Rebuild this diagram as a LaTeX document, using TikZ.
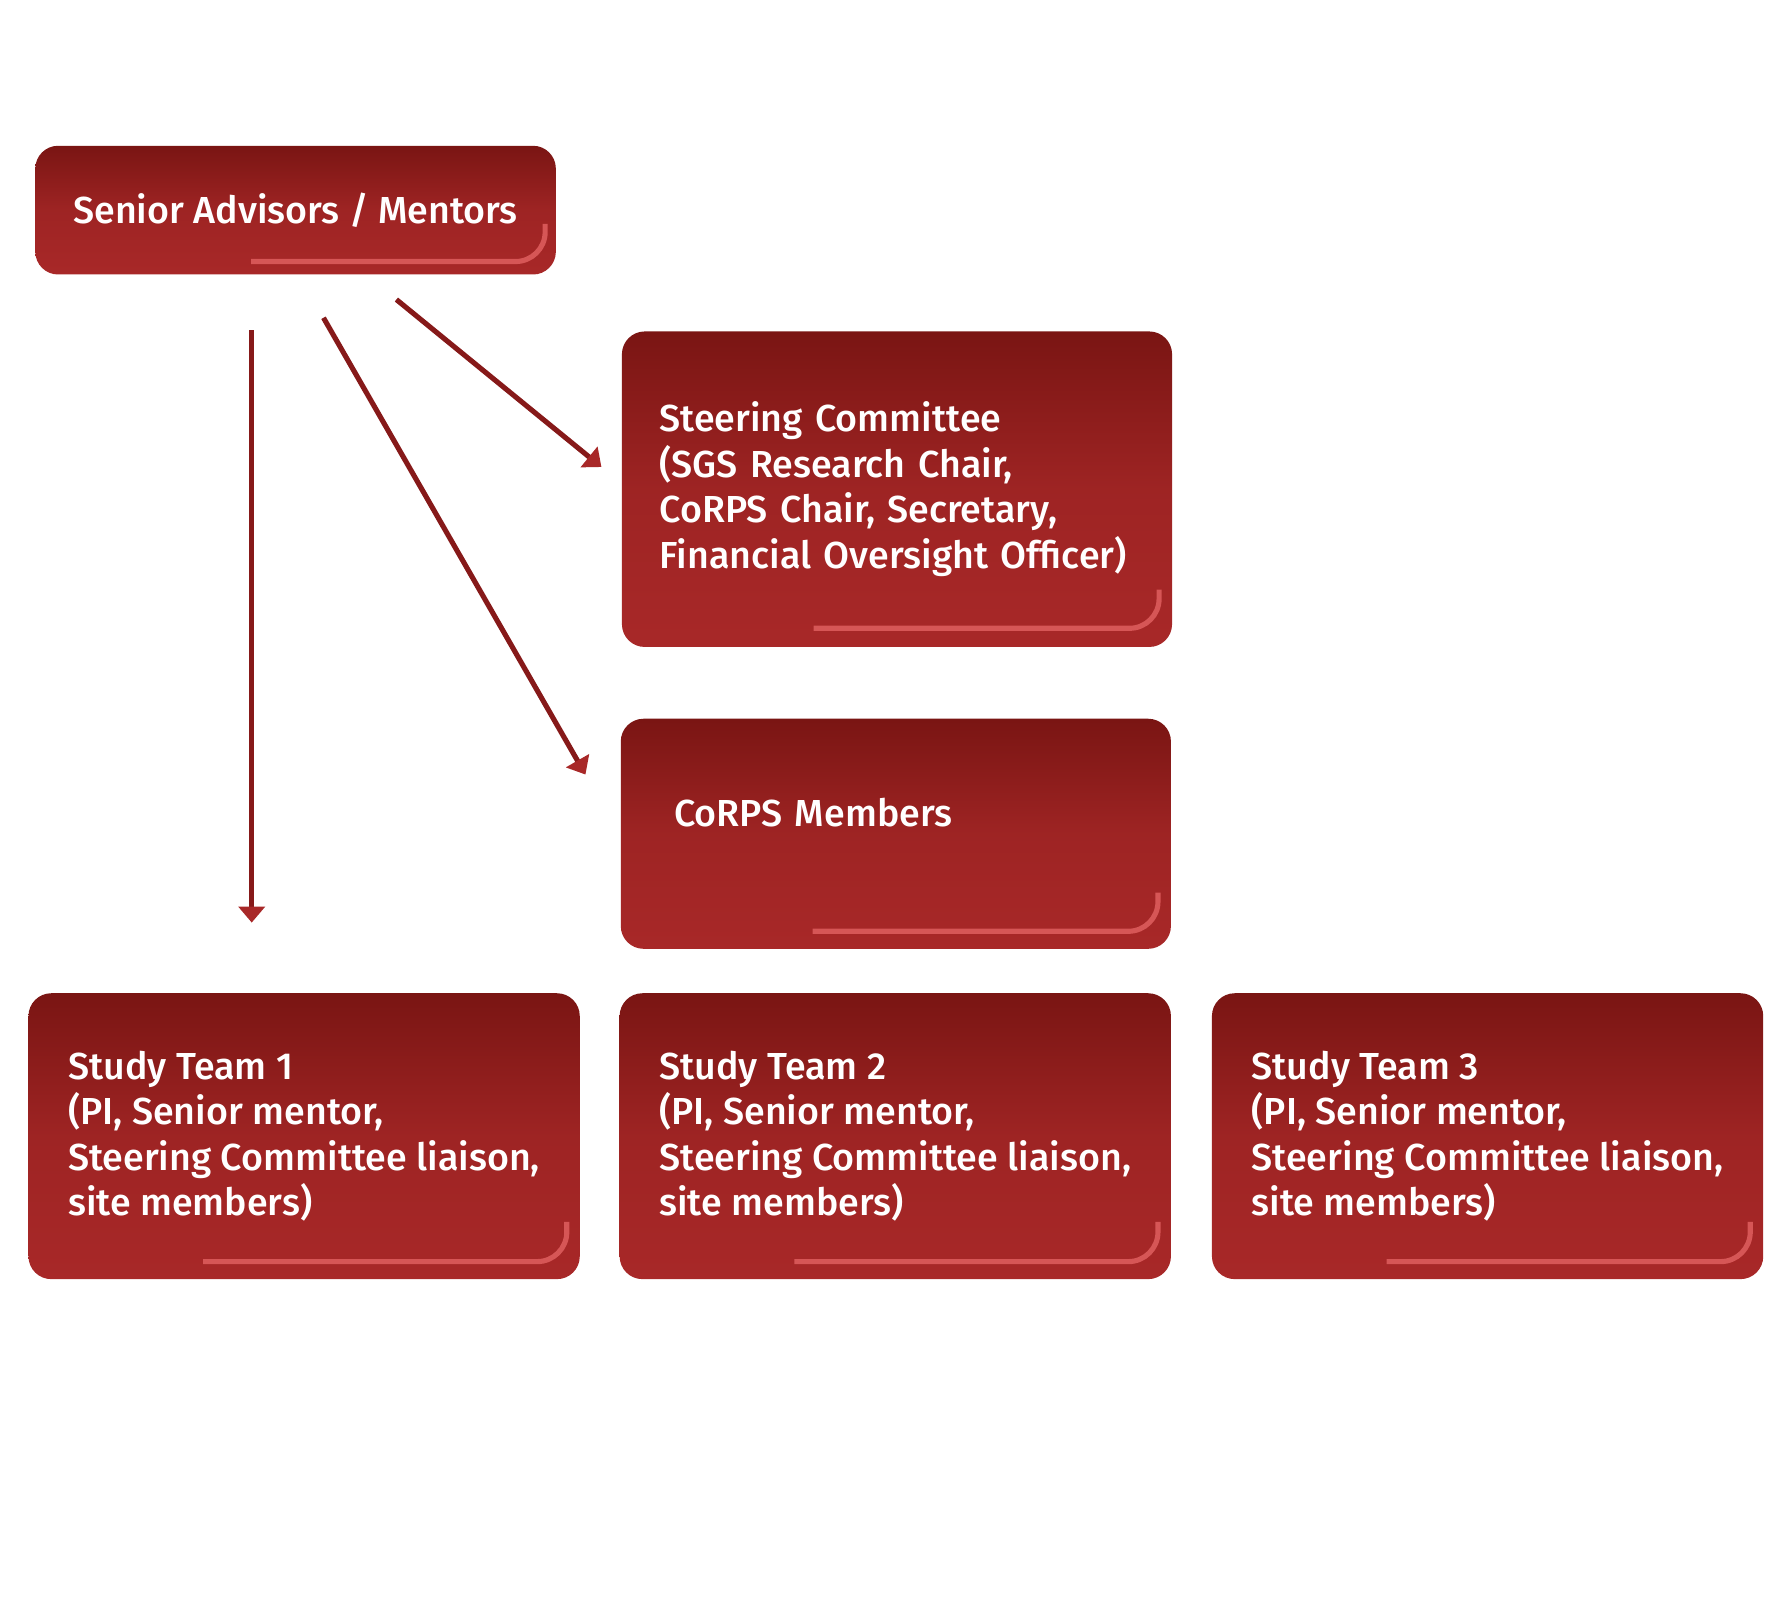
\documentclass[tikz,border=0pt]{standalone}
\usepackage{fontspec}
\setmainfont{Fira Sans}[UprightFont=* Medium]
\usetikzlibrary{calc,arrows.meta}
\newdimen\pxu \pxu=0.1139mm
\definecolor{boxtop}{HTML}{7A1513}
\definecolor{boxbot}{HTML}{A82828}
\definecolor{accentred}{HTML}{D65656}
\definecolor{linkred}{HTML}{861919}
\definecolor{tipred}{HTML}{A82828}
\tikzset{>={Triangle[length=1.6mm,width=2.6mm,color=tipred]}}
\tikzset{
  unit box/.style={rounded corners=20\pxu, top color=boxtop, bottom color=boxbot,
    middle color=boxbot!78!boxtop, text=white, align=left, inner xsep=20\pxu,
    inner ysep=0pt, font=\fontsize{10.7}{12.95}\selectfont,
    execute at begin node={\hyphenpenalty=10000\relax}},
  accent/.style={accentred, line width=4.5\pxu, rounded corners=26\pxu},
  link/.style={->, linkred, line width=4.5\pxu}
}
\begin{document}
\begin{tikzpicture}[x=0.1139mm,y=-0.1139mm]
\useasboundingbox (0,0) rectangle (1568,1405);
    % boxes
    \node[unit box, minimum width=457\pxu, minimum height=113\pxu] (sa) at (259.5,184.5) {Senior Advisors / Mentors};
    \node[unit box, inner xsep=33\pxu, text width=417\pxu, minimum height=277\pxu] (sc) at (787.5,429.5)
      {Steering Committee\\(SGS Research Chair,\\CoRPS Chair, Secretary,\\Financial Oversight Officer)};
    \node[unit box, inner xsep=47\pxu, text width=389\pxu, minimum height=202\pxu] (corps) at (786.5,732)
      {CoRPS Members\\[-14\pxu]\strut};
    \foreach \i/\x in {1/267,2/786,3/1306}
      \node[unit box, minimum width=484\pxu, minimum height=251\pxu] (st\i) at (\x,997.5)
        {Study Team \i\\(PI, Senior mentor,\\Steering Committee liaison,\\site members)};
    % accent strokes
    \foreach \b/\s/\o/\r/\t in {sa/190/12/10/45, sc/169/17/12/51, corps/169/16/12/50, st1/154/16/12/51, st2/154/16/12/51, st3/154/16/12/51}
      \draw[accent] ($(\b.south west)+(\s,-\o)$) -| ($(\b.south east)+(-\r,-\t)$);
    % arrows
    \coordinate (v0) at (221,290);
    \coordinate (v1) at (221,810);
    \coordinate (d0) at (284,279);
    \coordinate (d1) at (514,680);
    \coordinate (e0) at (348,263);
    \coordinate (e1) at (528,410);
    \draw[link] (v0) -- (v1);
    \draw[link] (d0) -- (d1);
    \draw[link] (e0) -- (e1);
\end{tikzpicture}
\end{document}
